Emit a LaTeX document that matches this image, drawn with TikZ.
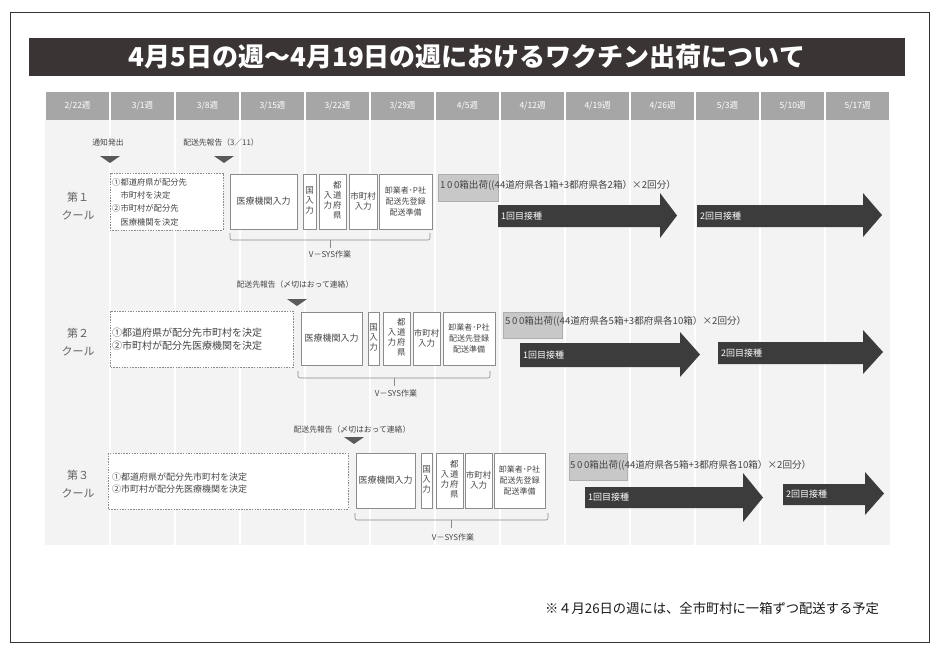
\documentclass[tikz,border=0pt]{standalone}
\usepackage{fontspec}
\setmainfont{Noto Sans CJK JP}
\definecolor{titlebg}{HTML}{3A3434}
\definecolor{hdrgray}{HTML}{A6A6A6}
\definecolor{bglight}{HTML}{F3F3F3}
\definecolor{boxline}{HTML}{8C8C8C}
\definecolor{txt}{HTML}{454545}
\definecolor{arrowdark}{HTML}{3C3C3C}
\definecolor{shipgray}{HTML}{C8C8C8}
\definecolor{markgray}{HTML}{5A5A5A}
\newcommand\vstk[1]{\begin{tabular}[c]{@{}c@{}}#1\end{tabular}}
\newcommand\bigarrow[7]{%
  \fill[arrowdark] (#1,#2) -- (#3,#2) -- (#3,#4) -- (#5,{(#4+#6)/2}) -- (#3,#6) -- (#3,#7) -- (#1,#7) -- cycle;}
\begin{document}
\begin{tikzpicture}[x=1pt,y=-1pt,
  frame/.style={draw=black!80,line width=0.8pt},
  titlebar/.style={fill=titlebg,text=white,font=\bfseries\fontsize{26}{28}\selectfont,minimum width=876,minimum height=38,inner sep=0},
  hdr/.style={fill=hdrgray,text=white,font=\fontsize{8.5}{9}\selectfont,minimum width=63.5,minimum height=28,inner sep=0},
  stepbox/.style={draw=boxline,fill=white,line width=0.6pt,align=center,inner sep=0,text=txt,font=\fontsize{8.5}{10}\selectfont},
  planbox/.style={draw=boxline,fill=white,line width=0.6pt,dash pattern=on 1.5pt off 1.2pt},
  plantext/.style={anchor=west,align=left,text=txt,inner sep=0},
  coollbl/.style={align=center,text=txt!85,font=\fontsize{11}{18}\selectfont,inner sep=0},
  marklbl/.style={text=txt,font=\fontsize{7.8}{9}\selectfont,inner sep=0},
  trimark/.style={fill=markgray},
  brk/.style={draw=boxline,line width=0.6pt,rounded corners=2pt},
  brklbl/.style={text=txt,font=\fontsize{8}{9}\selectfont,inner sep=0},
  ship/.style={draw=boxline!70,fill=shipgray,line width=0.4pt},
  shiptext/.style={anchor=west,text=txt,font=\fontsize{9.6}{10}\selectfont,inner sep=0},
  arrlbl/.style={anchor=west,text=white,font=\fontsize{9}{10}\selectfont,inner sep=0},
  foot/.style={text=black!90,font=\fontsize{13.3}{15}\selectfont,inner sep=0}
]
\useasboundingbox (0,0) rectangle (939,657);
\fill[white] (0,0) rectangle (939,657);
\draw[frame] (10,12) rectangle (929,642);
\node[titlebar] (title) at (467,57) {4月5日の週～4月19日の週におけるワクチン出荷について};
% timeline background
\fill[bglight] (45,120) rectangle (890,545);
\foreach \i in {1,...,12} \draw[white,line width=1.5pt] (45+65*\i,120) -- (45+65*\i,545);
\foreach \w [count=\i from 0] in {2/22,3/1,3/8,3/15,3/22,3/29,4/5,4/12,4/19,4/26,5/3,5/10,5/17}
  \node[hdr] (h\i) at (45+65*\i+32.5,106) {\w 週};

% ===== Cool 1 =====
\node[coollbl] (c1) at (78,206) {第１\\クール};
\node[marklbl] (m11) at (108,143) {通知発出};
\fill[trimark] (100,156) -- (120,156) -- (110,163) -- cycle;
\node[marklbl] (m12) at (221,143) {配送先報告（3／11）};
\fill[trimark] (214,156) -- (234,156) -- (224,163) -- cycle;
\draw[planbox] (110,173) rectangle (223,230);
\node[plantext,font=\fontsize{8.3}{13.3}\selectfont] (p1) at (112,202) {①都道府県が配分先\\　市町村を決定\\②市町村が配分先\\　医療機関を決定};
\node[stepbox,font=\fontsize{9}{10}\selectfont,minimum width=67,minimum height=55] (a1) at (263.5,201.5) {医療機関入力};
\node[stepbox,minimum width=13,minimum height=55] (a2) at (309.5,201.5) {\vstk{国\\入\\力}};
\node[stepbox,minimum width=27,minimum height=55] (a3) at (332.5,201.5) {\vstk{入\\力}\hspace{1pt}\vstk{都\\道\\府\\県}};
\node[stepbox,minimum width=28,minimum height=55] (a4) at (363,201.5) {市町村\\入力};
\node[stepbox,font=\fontsize{8}{11}\selectfont,minimum width=53,minimum height=55] (a5) at (405.5,201.5) {卸業者･P社\\配送先登録\\配送準備};
\draw[brk] (230,233) -- (230,240) -- (430,240) -- (430,233);
\draw[brk] (330,240) -- (330,248);
\node[brklbl] (v1) at (330,254) {V－SYS作業};
\fill[ship] (438,174) rectangle (498,201);
\node[shiptext] (s1) at (440,185) {1\,0\,0箱出荷((44道府県各1箱+3都府県各2箱）×2回分）};
\bigarrow{498}{205}{660}{193}{677}{238}{227}
\node[arrlbl] (r11) at (501,216) {1回目接種};
\bigarrow{697}{205}{863}{193}{882}{237}{227}
\node[arrlbl] (r12) at (700,216) {2回目接種};

% ===== Cool 2 =====
\node[coollbl] (c2) at (78,342) {第２\\クール};
\node[marklbl] (m2) at (295,285) {配送先報告（〆切はおって連絡）};
\fill[trimark] (287,299) -- (307,299) -- (297,306) -- cycle;
\draw[planbox] (110,311) rectangle (293,367);
\node[plantext,font=\fontsize{10}{12.5}\selectfont] (p2) at (112,339) {①都道府県が配分先市町村を決定\\②市町村が配分先医療機関を決定};
\node[stepbox,font=\fontsize{9}{10}\selectfont,minimum width=61,minimum height=53] (b1) at (331.5,338.5) {医療機関入力};
\node[stepbox,minimum width=11,minimum height=53] (b2) at (373.5,338.5) {\vstk{国\\入\\力}};
\node[stepbox,minimum width=27,minimum height=53] (b3) at (396.5,338.5) {\vstk{入\\力}\hspace{1pt}\vstk{都\\道\\府\\県}};
\node[stepbox,minimum width=27,minimum height=53] (b4) at (426.5,338.5) {市町村\\入力};
\node[stepbox,font=\fontsize{8}{11}\selectfont,minimum width=52,minimum height=53] (b5) at (469,338.5) {卸業者･P社\\配送先登録\\配送準備};
\draw[brk] (298,371) -- (298,378) -- (490,378) -- (490,371);
\draw[brk] (394,378) -- (394,386);
\node[brklbl] (v2) at (396,393) {V－SYS作業};
\fill[ship] (503,312) rectangle (562,338);
\node[shiptext] (s2) at (505,321) {5\,0\,0箱出荷((44道府県各5箱+3都府県各10箱）×2回分）};
\bigarrow{520}{343}{680}{332}{700}{377}{367}
\node[arrlbl] (r21) at (523,355) {1回目接種};
\bigarrow{718}{342}{863}{330}{883}{374}{364}
\node[arrlbl] (r22) at (721,353) {2回目接種};

% ===== Cool 3 =====
\node[coollbl] (c3) at (78,484) {第３\\クール};
\node[marklbl] (m3) at (352,430) {配送先報告（〆切はおって連絡）};
\fill[trimark] (344,437) -- (364,437) -- (354,444) -- cycle;
\draw[planbox] (108,453) rectangle (348,509);
\node[plantext,font=\fontsize{9}{12.5}\selectfont] (p3) at (112,483) {①都道府県が配分先市町村を決定\\②市町村が配分先医療機関を決定};
\node[stepbox,font=\fontsize{9}{10}\selectfont,minimum width=59,minimum height=55] (d1) at (385.5,480.5) {医療機関入力};
\node[stepbox,minimum width=11,minimum height=55] (d2) at (426.5,480.5) {\vstk{国\\入\\力}};
\node[stepbox,minimum width=27,minimum height=55] (d3) at (449.5,480.5) {\vstk{入\\力}\hspace{1pt}\vstk{都\\道\\府\\県}};
\node[stepbox,minimum width=27,minimum height=55] (d4) at (478.5,480.5) {市町村\\入力};
\node[stepbox,font=\fontsize{8}{11}\selectfont,minimum width=51,minimum height=55] (d5) at (519.5,480.5) {卸業者･P社\\配送先登録\\配送準備};
\draw[brk] (355,513) -- (355,520) -- (548,520) -- (548,513);
\draw[brk] (451,520) -- (451,528);
\node[brklbl] (v3) at (453,537) {V－SYS作業};
\fill[ship] (569,453) rectangle (627,480);
\node[shiptext] (s3) at (570,465) {5\,0\,0箱出荷((44道府県各5箱+3都府県各10箱）×2回分）};
\bigarrow{585}{487}{743}{473}{763}{522}{508}
\node[arrlbl] (r31) at (588,497.5) {1回目接種};
\bigarrow{783}{484}{865}{472}{884}{515}{505}
\node[arrlbl] (r32) at (786,494.5) {2回目接種};

\node[foot] (note) at (712,608) {※４月26日の週には、全市町村に一箱ずつ配送する予定};
\end{tikzpicture}
\end{document}
